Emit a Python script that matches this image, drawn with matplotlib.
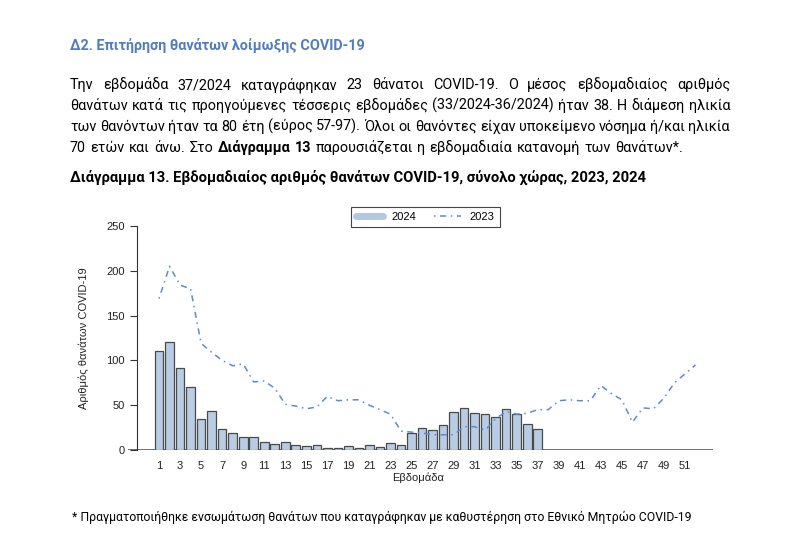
import matplotlib
matplotlib.use('Agg')
import matplotlib.pyplot as plt
from matplotlib.lines import Line2D

# εβδομαδιαίοι θάνατοι COVID-19
weeks_2023 = list(range(1, 53))
deaths_2023 = [169, 205, 184, 180, 119, 109, 100, 94, 96, 76, 77, 69, 51, 49, 46, 48,
               60, 55, 56, 56, 50, 45, 40, 21, 20, 19, 17, 17, 17, 26, 26, 22, 35, 43,
               40, 41, 45, 45, 55, 56, 55, 55, 72, 63, 56, 31, 47, 46, 58, 75, 85, 95]
weeks_2024 = list(range(1, 38))
deaths_2024 = [111, 121, 91, 70, 35, 43, 23, 19, 14, 14, 9, 7, 9, 6, 4, 6, 2, 2, 4, 2,
               6, 3, 8, 6, 19, 24, 22, 28, 42, 47, 41, 40, 37, 46, 40, 29, 23]
x_ticks = list(range(1, 52, 2))
y_ticks = [0, 50, 100, 150, 200, 250]

title = "Δ2. Επιτήρηση θανάτων λοίμωξης COVID-19"
para_lines = [
    [("Την εβδομάδα 37/2024 καταγράφηκαν 23 θάνατοι COVID-19. Ο μέσος εβδομαδιαίος αριθμός", 'normal')],
    [("θανάτων κατά τις προηγούμενες τέσσερις εβδομάδες (33/2024-36/2024) ήταν 38. Η διάμεση ηλικία", 'normal')],
    [("των θανόντων ήταν τα 80 έτη (εύρος 57-97). Όλοι οι θανόντες είχαν υποκείμενο νόσημα ή/και ηλικία", 'normal')],
    [("70 ετών και άνω. Στο", 'normal'), ("Διάγραμμα 13", 'bold'),
     ("παρουσιάζεται η εβδομαδιαία κατανομή των θανάτων*.", 'normal')],
]
caption = "Διάγραμμα 13. Εβδομαδιαίος αριθμός θανάτων COVID-19, σύνολο χώρας, 2023, 2024"
footnote = "* Πραγματοποιήθηκε ενσωμάτωση θανάτων που καταγράφηκαν με καθυστέρηση στο Εθνικό Μητρώο COVID-19"

TXT = ['Roboto', 'DejaVu Sans']
CHART = ['Liberation Sans', 'DejaVu Sans']
W, H = 800, 536

fig = plt.figure(figsize=(8, 5.36), dpi=100)
rend = fig.canvas.get_renderer()


def text_w(s, size, weight):
    t = fig.text(0, 0, s, fontsize=size, fontweight=weight, family=TXT)
    w = t.get_window_extent(renderer=rend).width
    t.remove()
    return w


def fit_size(s, weight, target):
    return 10 * target / text_w(s, 10, weight)


def put_line(segments, y, size, x0=70, justify=None, color='black'):
    words = []
    for s, wt in segments:
        words += [(w, wt) for w in s.split()]
    widths = [text_w(w, size, wt) for w, wt in words]
    gap = text_w('a a', size, 'normal') - text_w('aa', size, 'normal')
    if justify:
        gap = (justify - sum(widths)) / (len(words) - 1)
    x = x0
    for (w, wt), wd in zip(words, widths):
        fig.text(x / W, 1 - y / H, w, fontsize=size, fontweight=wt, family=TXT,
                 color=color, va='baseline', ha='left')
        x += wd + gap


# κείμενο σελίδας
fig.text(70 / W, 1 - 50 / H, title, fontsize=fit_size(title, 'bold', 297),
         fontweight='bold', family=TXT, color='#4F7DBF', va='baseline')
psize = fit_size(para_lines[1][0][0], 'normal', 652)
for i, line in enumerate(para_lines):
    put_line(line, 89 + i * 21, psize, justify=660 if i < 3 else 613)
fig.text(70 / W, 1 - 182 / H, caption, fontsize=fit_size(caption, 'bold', 577),
         fontweight='bold', family=TXT, va='baseline')
fig.text(72 / W, 1 - 521 / H, footnote, fontsize=fit_size(footnote, 'normal', 618),
         family=TXT, va='baseline')

# διάγραμμα
ax = fig.add_axes([128 / W, 1 - 450 / H, (713 - 128) / W, 224 / H])
ax.set_xlim(-1.95, 53.66)
ax.set_ylim(0, 250)
for s in ax.spines.values():
    s.set_visible(False)
ax.spines['left'].set_visible(True)
ax.spines['left'].set_position(('data', -1.09))
ax.spines['left'].set_bounds(0, 250)
ax.spines['left'].set_color('#333333')
ax.spines['left'].set_linewidth(0.8)
ax.axhline(0, color='#666666', lw=1.3, zorder=1)

line_col = '#5B8BD2'
dash = (0, (1, 3, 4, 3))
ax.bar(weeks_2024, deaths_2024, width=0.82, color='#B8CCE4', edgecolor='#4A4A4A',
       linewidth=0.9, zorder=2)
ax.plot(weeks_2023, deaths_2023, color=line_col, lw=1.1, linestyle=dash, zorder=3)

ax.set_yticks(y_ticks)
ax.set_xticks(x_ticks)
ax.tick_params(axis='y', length=5, width=0.8, color='#333333', pad=4, labelsize=8)
ax.tick_params(axis='x', length=0, pad=8, labelsize=8)
for lab in ax.get_xticklabels() + ax.get_yticklabels():
    lab.set_family(CHART)
    lab.set_color('#222222')

fig.text(84 / W, 1 - 338 / H, 'Αριθμός θανάτων COVID-19', rotation=90, ha='center',
         va='center', fontsize=8, family=CHART, color='#222222')
fig.text(418 / W, 1 - 478 / H, 'Εβδομάδα', ha='center', va='center', fontsize=8,
         family=CHART, color='#222222')

handles = [Line2D([], [], color='#B4C8E4', lw=5, solid_capstyle='round'),
           Line2D([], [], color=line_col, lw=1.1, linestyle=dash)]
leg = fig.legend(handles, ['2024', '2023'], ncol=2, loc='center',
                 bbox_to_anchor=(425.5 / W, 1 - 217 / H), frameon=True, fancybox=False,
                 edgecolor='#444444', framealpha=1, handlelength=2.4, columnspacing=1.6,
                 borderpad=0.45, prop={'family': CHART, 'size': 8})
leg.get_frame().set_linewidth(0.8)

fig.savefig('out.png', dpi=100)
